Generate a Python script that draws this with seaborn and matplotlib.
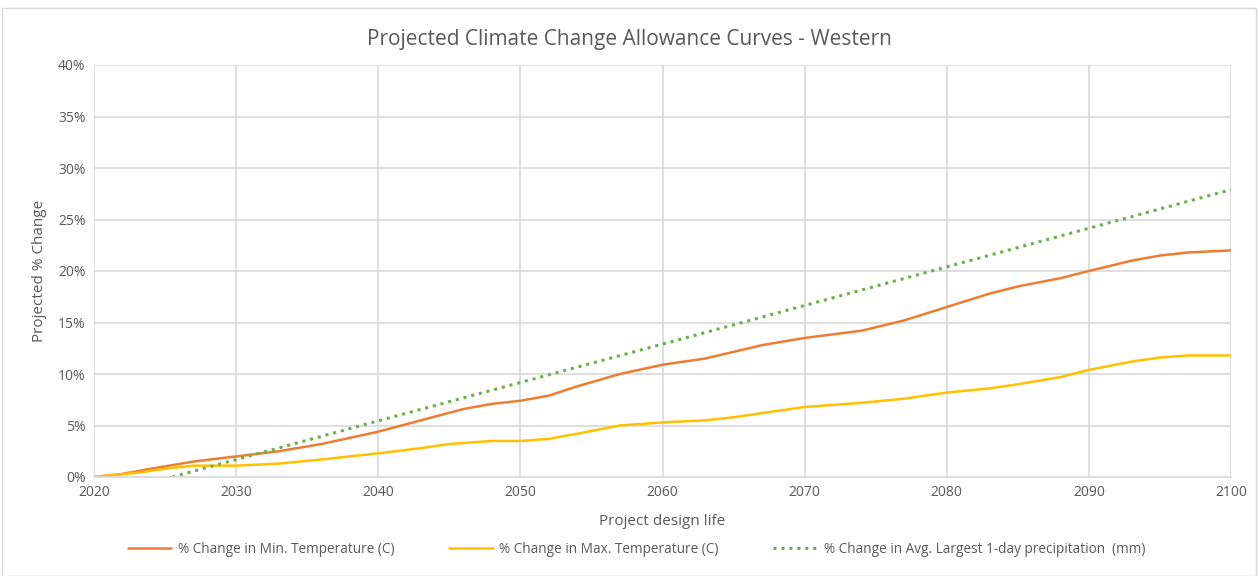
import seaborn as sns
import matplotlib.pyplot as plt
import pandas as pd
from matplotlib.patches import Rectangle

years_min = [2020, 2022, 2024, 2027, 2030, 2033, 2036, 2040, 2043, 2046, 2048, 2050, 2052, 2054,
             2057, 2059, 2060, 2063, 2067, 2070, 2074, 2077, 2080, 2083, 2085, 2088, 2090, 2093,
             2095, 2097, 2100]
min_temp = [0.0, 0.3, 0.8, 1.5, 2.0, 2.5, 3.2, 4.4, 5.5, 6.6, 7.1, 7.4, 7.9, 8.8,
            10.0, 10.6, 10.9, 11.5, 12.8, 13.5, 14.2, 15.2, 16.5, 17.8, 18.5, 19.3, 20.0, 21.0,
            21.5, 21.8, 22.0]

years_max = [2020, 2023, 2025, 2027, 2030, 2033, 2036, 2040, 2043, 2045, 2048, 2050, 2052, 2054,
             2057, 2060, 2063, 2065, 2067, 2070, 2074, 2077, 2080, 2083, 2085, 2088, 2090, 2093,
             2095, 2097, 2100]
max_temp = [0.0, 0.4, 0.8, 1.1, 1.1, 1.3, 1.7, 2.3, 2.8, 3.2, 3.5, 3.5, 3.7, 4.2,
            5.0, 5.3, 5.5, 5.8, 6.2, 6.8, 7.2, 7.6, 8.2, 8.6, 9.0, 9.7, 10.4, 11.2,
            11.6, 11.8, 11.8]

years_precip = [2025.5, 2040, 2060, 2080, 2100]
precip = [0.0, 5.45, 12.9, 20.4, 27.9]

labels = ["% Change in Min. Temperature (C)",
          "% Change in Max. Temperature (C)",
          "% Change in Avg. Largest 1-day precipitation  (mm)"]
colors = ["#ED7D31", "#FFC000", "#70AD47"]

sns.set_style("white")
plt.rcParams['font.family'] = ['Open Sans', 'DejaVu Sans']
txt = "#595959"

fig = plt.figure(figsize=(12.58, 5.76), dpi=100)
ax = fig.add_axes([94 / 1258, 1 - 477 / 576, (1231 - 94) / 1258, (477 - 65) / 576])

df_min = pd.DataFrame({"year": years_min, "val": min_temp})
df_max = pd.DataFrame({"year": years_max, "val": max_temp})
df_pr = pd.DataFrame({"year": years_precip, "val": precip})

sns.lineplot(data=df_min, x="year", y="val", ax=ax, color=colors[0], lw=1.8, label=labels[0])
sns.lineplot(data=df_max, x="year", y="val", ax=ax, color=colors[1], lw=1.8, label=labels[1])
sns.lineplot(data=df_pr, x="year", y="val", ax=ax, color=colors[2], lw=2.2,
             linestyle=(0, (1, 1.6)), label=labels[2])

ax.set_xlim(2020, 2100)
ax.set_ylim(0, 40)
ax.set_xticks(range(2020, 2101, 10))
ax.set_yticks(range(0, 41, 5))
ax.set_yticklabels([f"{v}%" for v in range(0, 41, 5)])
ax.grid(True, color="#d9d9d9", lw=1.2)
for s in ["top", "right", "left"]:
    ax.spines[s].set_visible(False)
ax.spines["bottom"].set_color("#d9d9d9")
ax.spines["bottom"].set_linewidth(1.2)
ax.tick_params(axis="both", length=0, colors=txt, labelsize=10, pad=6)

ax.set_xlabel("Project design life", color=txt, fontsize=11, labelpad=10)
ax.set_ylabel("Projected % Change", color=txt, fontsize=11, labelpad=8)
fig.suptitle("Projected Climate Change Allowance Curves - Western", color=txt,
             fontsize=15, y=1 - 40 / 576, va="center")

ax.legend(loc="center", bbox_to_anchor=(0.477, -0.175), ncol=3, frameon=False,
          fontsize=9.8, labelcolor=txt, handlelength=3.2, handletextpad=0.5,
          columnspacing=4.0)

fig.patches.append(Rectangle((2 / 1258, 0), 1 - 4 / 1258, 1 - 8 / 576, transform=fig.transFigure,
                             fill=False, edgecolor="#d9d9d9", lw=1))

fig.savefig("out.png", dpi=100)
